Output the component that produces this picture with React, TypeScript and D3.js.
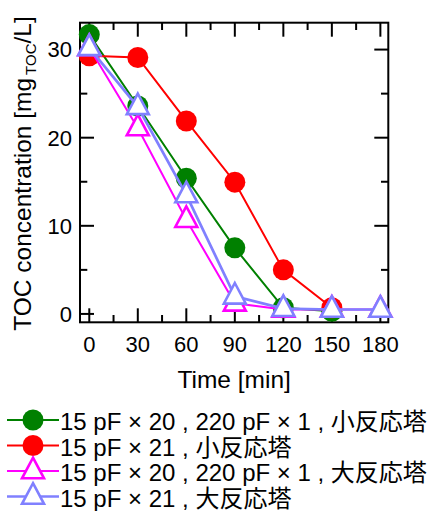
import React from "react";
import * as d3 from "d3";

const times = [0, 30, 60, 90, 120, 150, 180];
const greenVals = [31.7, 23.6, 15.4, 7.5, 0.7, 0.3];
const redVals = [29.3, 29.1, 21.9, 14.95, 5.0, 0.7];
const magentaVals = [30.2, 21.1, 10.7, 1.2, 0.5, 0.5, 0.5];
const lavenderVals = [30.2, 23.5, 13.5, 2.0, 0.6, 0.5, 0.5];

const xMajor = [0, 30, 60, 90, 120, 150, 180];
const xMinor = [15, 45, 75, 105, 135, 165];
const yMajor = [0, 10, 20, 30];
const yMinor = [5, 15, 25];

const legendLabels = [
  "15 pF × 20 , 220 pF × 1 , 小反応塔",
  "15 pF × 21 , 小反応塔",
  "15 pF × 20 , 220 pF × 1 , 大反応塔",
  "15 pF × 21 , 大反応塔",
];

type Series = { vals: number[]; color: string; marker: "circle" | "triangle"; lw: number };
const series: Series[] = [
  { vals: greenVals, color: "#008000", marker: "circle", lw: 2 },
  { vals: redVals, color: "#ff0000", marker: "circle", lw: 2 },
  { vals: magentaVals, color: "#ff00ff", marker: "triangle", lw: 2 },
  { vals: lavenderVals, color: "#8080ff", marker: "triangle", lw: 2.7 },
];

const L = 80, R = 388.3, T = 22.7, B = 322.3;
const FONT = "'Liberation Sans', Arial, 'Noto Sans CJK JP', sans-serif";

const x = d3.scaleLinear().domain([-5.74, 184.9]).range([L, R]);
const y = d3.scaleLinear().domain([-0.95, 33.05]).range([B, T]);

const triPath = "M0,-13.3 L11,7.3 L-11,7.3 Z";

function Marker({ s, cx, cy }: { s: Series; cx: number; cy: number }) {
  if (s.marker === "circle") return <circle cx={cx} cy={cy} r={10.5} fill={s.color} />;
  return (
    <path d={triPath} transform={`translate(${cx},${cy})`} fill="#fff" stroke={s.color} strokeWidth={2.6} strokeLinejoin="miter" />
  );
}

export default function App() {
  const line = d3.line<[number, number]>().x((d) => x(d[0])).y((d) => y(d[1]));
  const MAJ = 14, MIN = 7.3;
  const legendRows = [420, 445.5, 471, 496.5];
  return (
    <svg width={432} height={511} style={{ position: "absolute", left: 0, top: 0 }} fontFamily={FONT}>
      <rect x={0} y={0} width={432} height={511} fill="#fff" />
      {/* ticks */}
      <g stroke="#000" strokeWidth={2}>
        {xMajor.map((t) => (
          <g key={"xM" + t}>
            <line x1={x(t)} x2={x(t)} y1={B} y2={B - MAJ} />
            <line x1={x(t)} x2={x(t)} y1={T} y2={T + MAJ} />
          </g>
        ))}
        {xMinor.map((t) => (
          <g key={"xm" + t}>
            <line x1={x(t)} x2={x(t)} y1={B} y2={B - MIN} />
            <line x1={x(t)} x2={x(t)} y1={T} y2={T + MIN} />
          </g>
        ))}
        {yMajor.map((t) => (
          <g key={"yM" + t}>
            <line x1={L} x2={L + MAJ} y1={y(t)} y2={y(t)} />
            <line x1={R} x2={R - MAJ} y1={y(t)} y2={y(t)} />
          </g>
        ))}
        {yMinor.map((t) => (
          <g key={"ym" + t}>
            <line x1={L} x2={L + MIN} y1={y(t)} y2={y(t)} />
            <line x1={R} x2={R - MIN} y1={y(t)} y2={y(t)} />
          </g>
        ))}
        <rect x={L} y={T} width={R - L} height={B - T} fill="none" />
      </g>
      {/* tick labels */}
      <g fontSize={22} fill="#000">
        {xMajor.map((t) => (
          <text key={"xl" + t} x={x(t)} y={352} textAnchor="middle">{t}</text>
        ))}
        {yMajor.map((t) => (
          <text key={"yl" + t} x={72} y={y(t)} dy="0.36em" textAnchor="end">{t}</text>
        ))}
      </g>
      {/* axis titles */}
      <text x={(L + R) / 2} y={388} fontSize={24.5} textAnchor="middle">Time [min]</text>
      <text transform={`translate(31,${173.5}) rotate(-90)`} fontSize={24.5} textAnchor="middle">
        TOC concentration [mg<tspan fontSize={15} dx={3} dy={5}>TOC</tspan><tspan dy={-5}>/L]</tspan>
      </text>
      {/* series */}
      {series.map((s, i) => {
        const pts: [number, number][] = s.vals.map((v, j) => [times[j], v]);
        return (
          <g key={"s" + i}>
            <path d={line(pts) || ""} fill="none" stroke={s.color} strokeWidth={s.lw} />
            {pts.map((p, j) => (
              <Marker key={j} s={s} cx={x(p[0])} cy={y(p[1])} />
            ))}
          </g>
        );
      })}
      {/* legend */}
      {series.map((s, i) => {
        const ry = legendRows[i];
        return (
          <g key={"lg" + i}>
            <line x1={7} x2={59} y1={ry} y2={ry} stroke={s.color} strokeWidth={s.lw} />
            <Marker s={s} cx={33} cy={ry} />
            <text x={60} y={ry + 10} fontSize={24}>{legendLabels[i]}</text>
          </g>
        );
      })}
    </svg>
  );
}
